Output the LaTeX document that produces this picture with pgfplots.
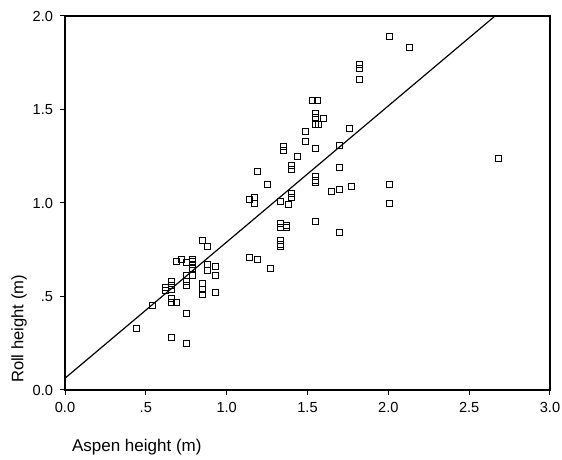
\documentclass[border=0pt]{standalone}
\usepackage{fontspec}
\setmainfont{Liberation Sans}
\usepackage{pgfplots}
\pgfplotsset{compat=1.18}
\begin{document}
\begin{tikzpicture}
\path[use as bounding box] (0pt,0pt) rectangle (281pt,230pt);
\begin{axis}[
    name=ax,
    at={(32.5pt,35pt)}, anchor=south west,
    scale only axis,
    width=242.5pt, height=187pt,
    xmin=0, xmax=3, ymin=0, ymax=2,
    xtick={0,0.5,1,1.5,2,2.5,3},
    xticklabels={0.0,.5,1.0,1.5,2.0,2.5,3.0},
    ytick={0,0.5,1,1.5,2},
    yticklabels={0.0,.5,1.0,1.5,2.0},
    xtick pos=bottom, ytick pos=left,
    tick align=outside,
    major tick length=2.5pt,
    tick label style={font=\fontsize{7.3}{8}\selectfont},
    /pgf/number format/assume math mode=true,
    axis line style={line width=0.6pt},
    every tick/.style={black, line width=0.5pt},
  ]
  % scatter of roll vs aspen height
  \addplot[only marks, mark=square, mark size=1.5pt, mark options={line width=0.45pt}]
    table[row sep=\\] {
      x y \\
      0.44 0.33 \\ 0.54 0.45 \\ 0.62 0.55 \\ 0.62 0.53 \\
      0.66 0.58 \\ 0.66 0.56 \\ 0.66 0.54 \\ 0.66 0.49 \\
      0.66 0.47 \\ 0.69 0.47 \\ 0.66 0.28 \\ 0.69 0.69 \\
      0.72 0.70 \\ 0.75 0.68 \\ 0.75 0.61 \\ 0.75 0.58 \\
      0.75 0.56 \\ 0.75 0.41 \\ 0.75 0.25 \\ 0.79 0.70 \\
      0.79 0.69 \\ 0.79 0.67 \\ 0.79 0.65 \\ 0.79 0.61 \\
      0.85 0.80 \\ 0.88 0.77 \\ 0.88 0.67 \\ 0.88 0.64 \\
      0.85 0.57 \\ 0.85 0.54 \\ 0.85 0.51 \\ 0.93 0.66 \\
      0.93 0.61 \\ 0.93 0.52 \\
      1.14 0.71 \\ 1.19 0.70 \\ 1.27 0.65 \\
      1.33 0.89 \\ 1.33 0.87 \\ 1.37 0.88 \\ 1.37 0.87 \\
      1.33 0.80 \\ 1.33 0.78 \\ 1.33 0.77 \\
      1.55 0.90 \\ 1.70 0.84 \\
      1.14 1.02 \\ 1.17 1.03 \\ 1.17 1.00 \\ 1.33 1.01 \\
      1.40 1.05 \\ 1.40 1.03 \\ 1.38 0.99 \\
      1.65 1.06 \\ 1.70 1.07 \\ 1.77 1.09 \\
      2.01 1.10 \\ 2.01 1.00 \\
      1.25 1.10 \\ 1.19 1.17 \\ 1.40 1.20 \\ 1.40 1.18 \\
      1.55 1.14 \\ 1.55 1.12 \\ 1.55 1.11 \\ 1.70 1.19 \\
      1.44 1.25 \\ 1.35 1.30 \\ 1.35 1.28 \\
      1.55 1.29 \\ 1.70 1.31 \\ 1.76 1.40 \\
      1.49 1.38 \\ 1.49 1.33 \\
      1.55 1.42 \\ 1.57 1.42 \\ 1.55 1.48 \\ 1.55 1.46 \\
      1.60 1.45 \\ 1.53 1.55 \\ 1.56 1.55 \\
      1.82 1.74 \\ 1.82 1.72 \\ 1.82 1.66 \\
      2.01 1.89 \\ 2.13 1.83 \\ 2.68 1.24 \\
    };
  % fitted line
  \addplot[black, line width=0.6pt] coordinates {(0,0.063) (2.66,2.0)};
\end{axis}
\node[rotate=90, anchor=west, font=\fontsize{8.3}{10}\selectfont]
  at ([xshift=-23pt]ax.south west) {Roll height (m)};
\node[anchor=west, font=\fontsize{8.5}{10}\selectfont]
  at ([yshift=-28.5pt]ax.south west) {Aspen height (m)};
\end{tikzpicture}
\end{document}
